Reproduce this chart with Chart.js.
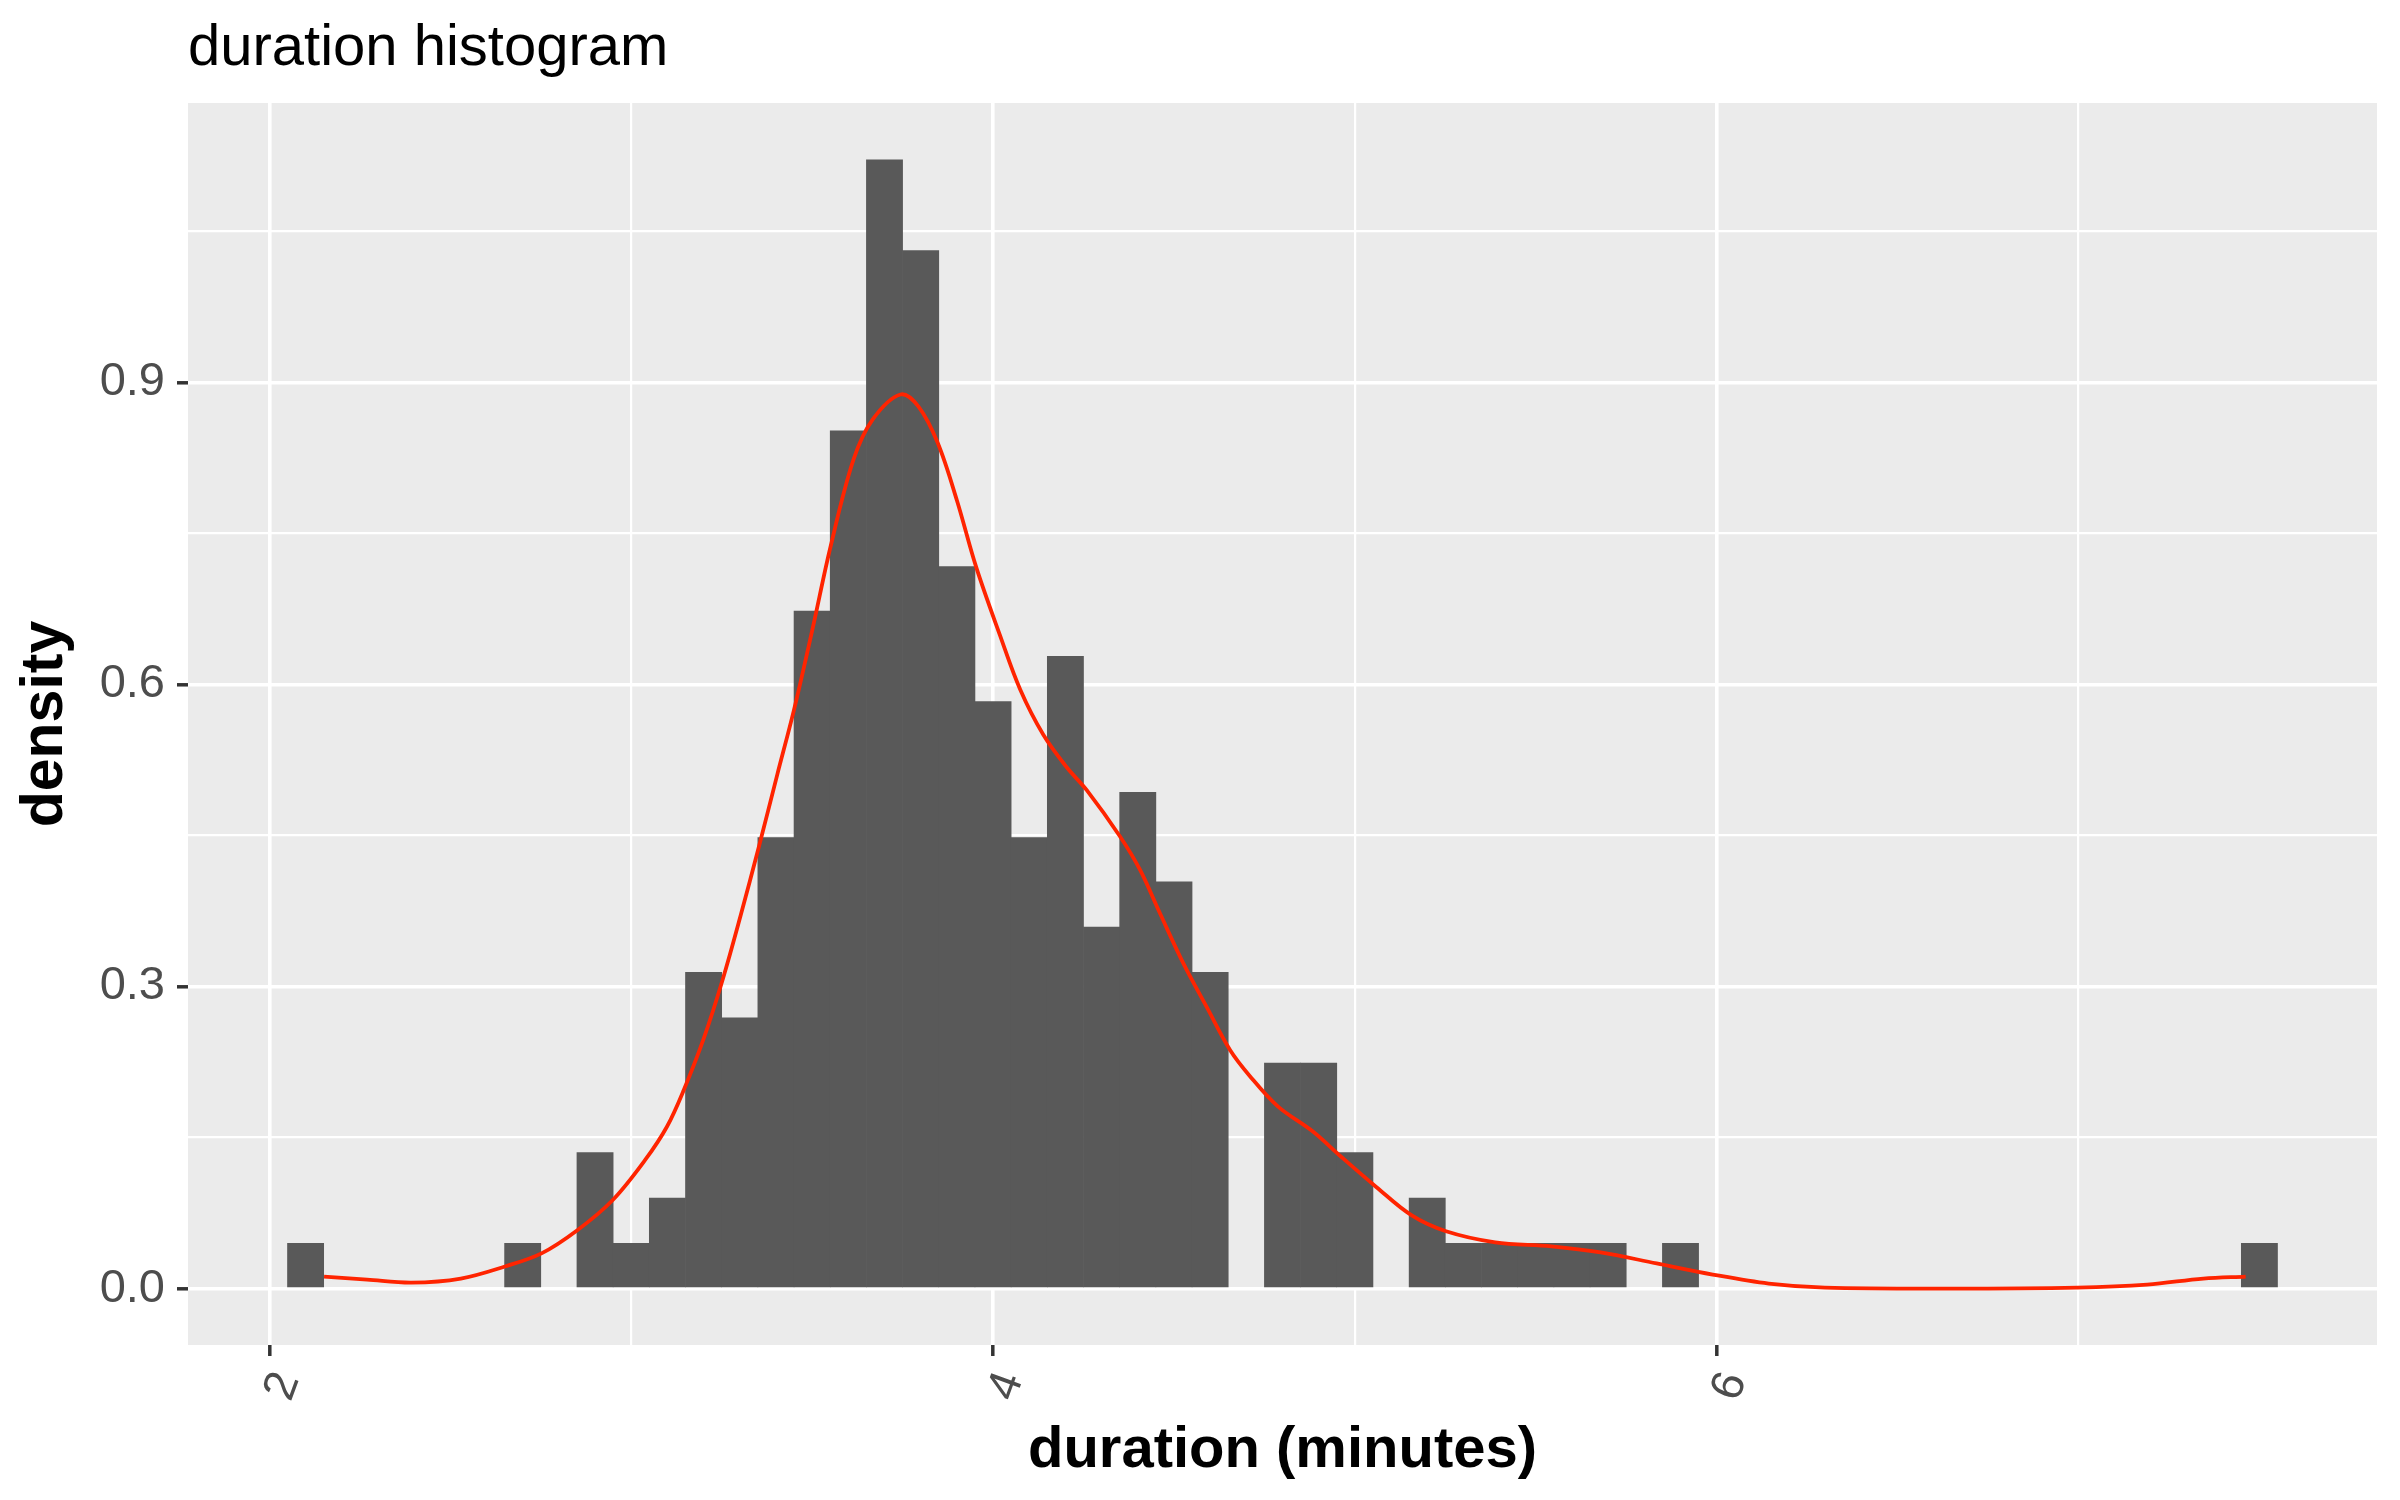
<!DOCTYPE html>
<html>
<head>
<meta charset="utf-8">
<script src="https://cdn.jsdelivr.net/npm/chart.js@4.4.1/dist/chart.umd.min.js"></script>
<style>
  html, body { margin: 0; padding: 0; background: #ffffff; }
  #wrap { width: 2400px; height: 1500px; }
</style>
</head>
<body>
<div id="wrap"><canvas id="c" width="2400" height="1500"></canvas></div>
<script>
// ---- data ----
const binCenters = [2.1, 2.2, 2.3, 2.4, 2.5, 2.6, 2.7, 2.8, 2.9, 3.0,
                    3.1, 3.2, 3.3, 3.4, 3.5, 3.6, 3.7, 3.8, 3.9, 4.0,
                    4.1, 4.2, 4.3, 4.4, 4.5, 4.6, 4.7, 4.8, 4.9, 5.0,
                    5.1, 5.2, 5.3, 5.4, 5.5, 5.6, 5.7, 5.8, 5.9, 6.0,
                    6.1, 6.2, 6.3, 6.4, 6.5, 6.6, 6.7, 6.8, 6.9, 7.0,
                    7.1, 7.2, 7.3, 7.4, 7.5];
const binDensity = [0.045, 0, 0, 0, 0, 0, 0.045, 0, 0.135, 0.045,
                    0.090, 0.314, 0.269, 0.448, 0.673, 0.852, 1.121, 1.031, 0.717, 0.583,
                    0.448, 0.628, 0.359, 0.493, 0.404, 0.314, 0, 0.224, 0.224, 0.135,
                    0, 0.090, 0.045, 0.045, 0.045, 0.045, 0.045, 0, 0.045, 0,
                    0, 0, 0, 0, 0, 0, 0, 0, 0, 0,
                    0, 0, 0, 0, 0.045];
const kdeX = [2.151, 2.270, 2.393, 2.529, 2.651, 2.752, 2.851, 2.949, 3.039, 3.099,
              3.145, 3.201, 3.252, 3.302, 3.353, 3.404, 3.450, 3.501, 3.551, 3.614,
              3.667, 3.744, 3.794, 3.847, 3.900, 3.953, 4.019, 4.075, 4.139, 4.203,
              4.259, 4.351, 4.406, 4.461, 4.526, 4.590, 4.655, 4.710, 4.787, 4.884,
              4.962, 5.059, 5.156, 5.252, 5.388, 5.543, 5.679, 5.834, 5.989, 6.144,
              6.299, 6.648, 6.997, 7.190, 7.345, 7.462];
const kdeY = [0.012, 0.009, 0.006, 0.010, 0.022, 0.035, 0.058, 0.088, 0.128, 0.161,
              0.197, 0.249, 0.306, 0.370, 0.439, 0.511, 0.575, 0.655, 0.737, 0.823,
              0.863, 0.888, 0.876, 0.840, 0.783, 0.717, 0.649, 0.595, 0.550, 0.518,
              0.495, 0.449, 0.416, 0.373, 0.323, 0.280, 0.237, 0.211, 0.181, 0.156,
              0.131, 0.101, 0.073, 0.057, 0.046, 0.042, 0.036, 0.025, 0.014, 0.005,
              0.001, 0.000, 0.001, 0.004, 0.010, 0.012];
const xMajorTicks = [2, 4, 6];
const xMinorTicks = [3, 5, 7];
const xTickLabels = ['2', '4', '6'];
const yMajorTicks = [0, 0.3, 0.6, 0.9];
const yMinorTicks = [0.15, 0.45, 0.75, 1.05];
const yTickLabels = ['0.0', '0.3', '0.6', '0.9'];
const titleText = 'duration histogram';
const xTitleText = 'duration (minutes)';
const yTitleText = 'density';

// ---- styling ----
const FONT = '"Liberation Sans", Arial, Helvetica, sans-serif';
const isMajor = (list, v) => list.some(m => Math.abs(m - v) < 1e-9);

const barData = binCenters.map((x, i) => ({ x: x, y: binDensity[i] === 0 ? null : binDensity[i] }));
const lineData = kdeX.map((x, i) => ({ x: x, y: kdeY[i] }));

const panelBg = {
  id: 'panelBg',
  beforeDraw(chart) {
    const a = chart.chartArea, ctx = chart.ctx;
    ctx.save();
    ctx.fillStyle = '#EBEBEB';
    ctx.fillRect(a.left, a.top, a.right - a.left, a.bottom - a.top);
    ctx.restore();
  }
};

new Chart(document.getElementById('c'), {
  type: 'bar',
  data: {
    datasets: [
      {
        type: 'line',
        data: lineData,
        borderColor: 'rgb(255,36,0)',
        borderWidth: 3.8,
        pointRadius: 0,
        tension: 0.35,
        cubicInterpolationMode: 'default',
        fill: false,
        order: 0
      },
      {
        type: 'bar',
        data: barData,
        backgroundColor: '#595959',
        borderWidth: 0,
        barPercentage: 1.0,
        categoryPercentage: 1.0,
        order: 1
      }
    ]
  },
  plugins: [panelBg],
  options: {
    responsive: false,
    animation: false,
    devicePixelRatio: 1,
    layout: { padding: { left: 0, top: 0, right: 23, bottom: 0 } },
    plugins: {
      legend: { display: false },
      tooltip: { enabled: false },
      title: {
        display: true,
        text: titleText,
        align: 'start',
        fullSize: false,
        color: '#000000',
        font: { family: FONT, size: 58, weight: 'normal', lineHeight: 1.2 },
        padding: { top: 14, bottom: 19.4 }
      }
    },
    scales: {
      x: {
        type: 'linear',
        min: 1.775,
        max: 7.825,
        offset: false,
        afterBuildTicks: (s) => { s.ticks = xMajorTicks.concat(xMinorTicks).sort((a, b) => a - b).map(v => ({ value: v })); },
        afterFit: (s) => { s.height = 155; },
        border: { display: false },
        grid: {
          offset: false,
          color: '#FFFFFF',
          lineWidth: (ctx) => (ctx.tick && isMajor(xMajorTicks, ctx.tick.value)) ? 3.6 : 2.2,
          drawTicks: true,
          tickLength: 11,
          tickWidth: 3.5,
          tickColor: (ctx) => (ctx.tick && isMajor(xMajorTicks, ctx.tick.value)) ? '#333333' : 'rgba(0,0,0,0)'
        },
        ticks: {
          autoSkip: false,
          minRotation: 70,
          maxRotation: 70,
          padding: 9,
          labelOffset: 18,
          color: '#4D4D4D',
          font: { family: FONT, size: 46 },
          callback: (v) => {
            const i = xMajorTicks.findIndex(m => Math.abs(m - v) < 1e-9);
            return i >= 0 ? xTickLabels[i] : '';
          }
        },
        title: {
          display: true,
          text: xTitleText,
          color: '#000000',
          font: { family: FONT, size: 58, weight: 'bold', lineHeight: 1.2 },
          padding: { top: 0, bottom: 14 }
        }
      },
      y: {
        type: 'linear',
        min: -0.056,
        max: 1.1775,
        afterBuildTicks: (s) => { s.ticks = yMajorTicks.concat(yMinorTicks).sort((a, b) => a - b).map(v => ({ value: v })); },
        afterFit: (s) => { s.width = 188; },
        border: { display: false },
        grid: {
          color: '#FFFFFF',
          lineWidth: (ctx) => (ctx.tick && isMajor(yMajorTicks, ctx.tick.value)) ? 3.6 : 2.2,
          drawTicks: true,
          tickLength: 11,
          tickWidth: 3.5,
          tickColor: (ctx) => (ctx.tick && isMajor(yMajorTicks, ctx.tick.value)) ? '#333333' : 'rgba(0,0,0,0)'
        },
        ticks: {
          autoSkip: false,
          padding: 12,
          color: '#4D4D4D',
          font: { family: FONT, size: 47 },
          callback: (v) => {
            const i = yMajorTicks.findIndex(m => Math.abs(m - v) < 1e-9);
            return i >= 0 ? yTickLabels[i] : '';
          }
        },
        title: {
          display: true,
          text: yTitleText,
          color: '#000000',
          font: { family: FONT, size: 59, weight: 'bold', lineHeight: 1.2 },
          padding: { top: 10.6, bottom: 0 }
        }
      }
    }
  }
});
</script>
</body>
</html>
